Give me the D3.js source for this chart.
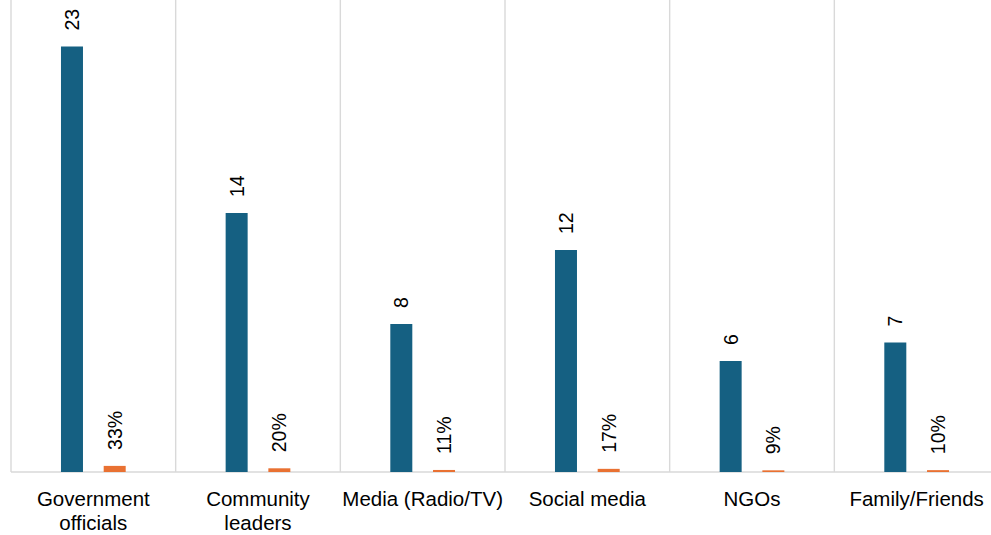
<!DOCTYPE html>
<html>
<head>
<meta charset="utf-8">
<script src="https://cdn.jsdelivr.net/npm/d3@7"></script>
<style>
  html, body { margin: 0; padding: 0; background: #fff; }
  svg { display: block; }
</style>
</head>
<body>
<svg id="chart" width="991" height="535"></svg>
<script>
// Sources of information: respondent counts and their share of responses
const categories = ["Government officials", "Community leaders", "Media (Radio/TV)", "Social media", "NGOs", "Family/Friends"];
const counts = [23, 14, 8, 12, 6, 7];
const shares = [0.33, 0.20, 0.11, 0.17, 0.09, 0.10];
const seriesKeys = ["count", "share"];

const width = 991, height = 535;
const svg = d3.select("#chart");

const baseY = 472;
const x0 = d3.scaleBand().domain(categories).range([11, 999]).padding(0);
const x1 = d3.scaleBand().domain(seriesKeys).range([0, x0.bandwidth()])
  .paddingInner(0.485).paddingOuter(1.17);
const y = d3.scaleLinear().domain([0, 23]).range([baseY, 46.5]);

const colors = { count: "#156082", share: "#E97132" };
const font = "'Liberation Sans', Arial, sans-serif";

// category separators
const edges = categories.map(c => x0(c)).concat([x0(categories[categories.length - 1]) + x0.bandwidth()]);
svg.append("g").selectAll("line").data(edges).join("line")
  .attr("x1", d => d).attr("x2", d => d)
  .attr("y1", 0).attr("y2", baseY)
  .attr("stroke", "#d9d9d9").attr("stroke-width", 1.4);

// baseline
svg.append("line")
  .attr("x1", 11).attr("x2", 999).attr("y1", baseY).attr("y2", baseY)
  .attr("stroke", "#d9d9d9").attr("stroke-width", 1.4);

const rows = categories.map((c, i) => ({ cat: c, count: counts[i], share: shares[i] }));

const groups = svg.append("g").selectAll("g").data(rows).join("g")
  .attr("transform", d => `translate(${x0(d.cat)},0)`);

const fmt = {
  count: v => String(v),
  share: v => Math.round(v * 100) + "%"
};

groups.selectAll("rect").data(d => seriesKeys.map(k => ({ key: k, value: d[k] }))).join("rect")
  .attr("x", d => x1(d.key))
  .attr("width", x1.bandwidth())
  .attr("y", d => y(d.value))
  .attr("height", d => baseY - y(d.value))
  .attr("fill", d => colors[d.key]);

groups.selectAll("text.val").data(d => seriesKeys.map(k => ({ key: k, value: d[k] }))).join("text")
  .attr("class", "val")
  .attr("transform", d => `translate(${x1(d.key) + x1.bandwidth() / 2},${y(d.value) - 16}) rotate(-90)`)
  .attr("text-anchor", "start")
  .attr("dominant-baseline", "central")
  .attr("font-family", font)
  .attr("font-size", 19.5)
  .attr("fill", "#000")
  .text(d => fmt[d.key](d.value));

// category axis labels, wrapped onto two lines where needed
const labelLines = {
  "Government officials": ["Government", "officials"],
  "Community leaders": ["Community", "leaders"]
};
groups.append("text")
  .attr("x", x0.bandwidth() / 2)
  .attr("y", 506)
  .attr("text-anchor", "middle")
  .attr("font-family", font)
  .attr("font-size", 20.5)
  .attr("fill", "#000")
  .selectAll("tspan")
  .data(d => labelLines[d.cat] || [d.cat])
  .join("tspan")
  .attr("x", x0.bandwidth() / 2)
  .attr("dy", (d, i) => i === 0 ? 0 : 24)
  .text(d => d);
</script>
</body>
</html>
